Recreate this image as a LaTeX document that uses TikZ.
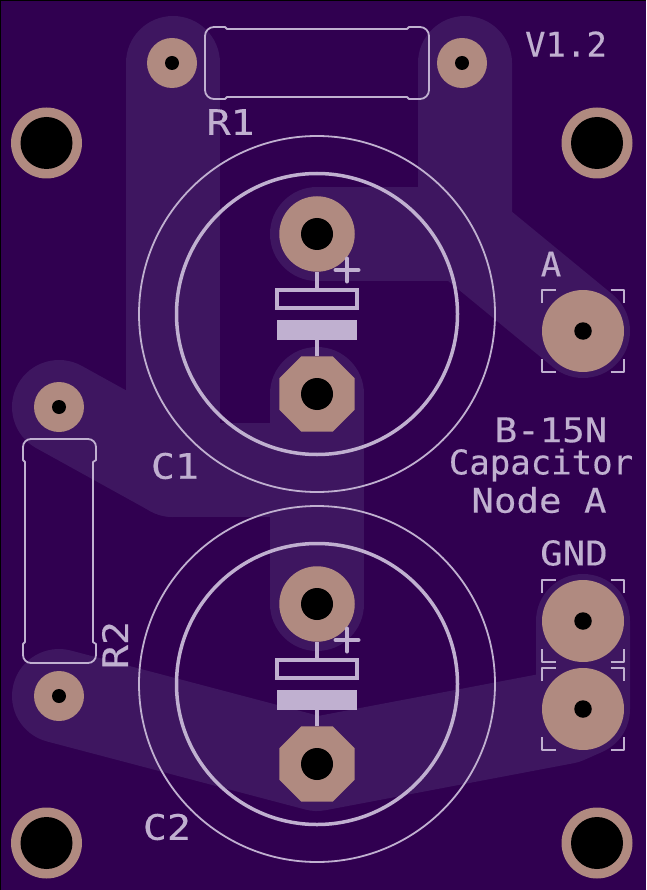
\documentclass[tikz,border=0pt]{standalone}
\usepackage{fontspec}
\setmainfont{DejaVu Sans Mono}[FakeBold=0.3]
\newfontfamily\wideface[FakeStretch=1.1,FakeBold=0.3]{DejaVu Sans Mono}
\newfontfamily\wideRface[FakeStretch=1.14,FakeBold=0.3]{DejaVu Sans Mono}
\usetikzlibrary{shapes.geometric}
\definecolor{board}{RGB}{48,0,80}
\definecolor{copperpour}{RGB}{62,22,96}
\definecolor{padc}{RGB}{176,138,128}
\definecolor{silk}{RGB}{192,176,208}
\tikzset{
  trace/.style={draw=copperpour,line width=94pt,line cap=round,line join=round},
  roundpad/.style={circle,fill=padc,inner sep=0pt,minimum size=#1},
  octpad/.style={regular polygon,regular polygon sides=8,fill=padc,inner sep=0pt,minimum size=81.6pt},
  drill/.style={circle,fill=black,inner sep=0pt,minimum size=#1},
  silkthin/.style={draw=silk,line width=1.8pt,line join=round},
  silkbig/.style={draw=silk,line width=3.5pt},
  silkmark/.style={draw=silk,line width=4pt},
  silkfill/.style={fill=silk,inner sep=0pt},
  label/.style={text=silk,inner sep=0pt,font=\fontsize{34}{40}\selectfont},
  widelabel/.style={text=silk,inner sep=0pt,font=\fontsize{34}{40}\selectfont\wideface},
  partlabel/.style={text=silk,inner sep=0pt,font=\fontsize{35}{40}\selectfont\wideRface},
}
\begin{document}
\begin{tikzpicture}[x=1pt,y=-1pt]
\useasboundingbox (0,0) rectangle (646,890);
\fill[black] (0,0) rectangle (646,890);
\fill[board] (1,1) rectangle (646,890);
% positions
\coordinate (pR1a) at (172,63);
\coordinate (pR1b) at (462,63);
\coordinate (pR2a) at (59,407);
\coordinate (pR2b) at (59,696);
\coordinate (pC1p) at (317,234);
\coordinate (pC1m) at (317,394);
\coordinate (pC2p) at (317,604);
\coordinate (pC2m) at (317,764);
\coordinate (pA) at (583,331);
\coordinate (pG1) at (583,621);
\coordinate (pG2) at (583,709);
\coordinate (j0) at (173,63);
\coordinate (j1) at (173,470);
\coordinate (j2) at (317,470);
\coordinate (j5) at (465,63);
\coordinate (j3) at (465,234);
\coordinate (j4) at (565,717);
% copper traces
\draw[trace] (j0) -- (j1) -- (j2);
\draw[trace] (pR2a) -- (j1);
\draw[trace] (pC1m) -- (pC2p);
\draw[trace] (j5) -- (j3) -- (pA);
\draw[trace] (pC1p) -- (j3);
\draw[trace] (pR2b) -- (pC2m) -- (j4) -- (pG2) -- (pG1);
% capacitor outlines
\node[circle,silkthin,inner sep=0pt,minimum size=356pt] (C1out) at (317,314) {};
\node[circle,silkbig,inner sep=0pt,minimum size=281pt] (C1in) at (317,314) {};
\node[circle,silkthin,inner sep=0pt,minimum size=356pt] (C2out) at (317,684) {};
\node[circle,silkbig,inner sep=0pt,minimum size=281pt] (C2in) at (317,684) {};
% pads
\node[roundpad=50pt] (R1a) at (pR1a) {};
\node[roundpad=50pt] (R1b) at (pR1b) {};
\node[roundpad=50pt] (R2a) at (pR2a) {};
\node[roundpad=50pt] (R2b) at (pR2b) {};
\node[roundpad=75.5pt] (C1p) at (pC1p) {};
\node[octpad] (C1m) at (pC1m) {};
\node[roundpad=75.5pt] (C2p) at (pC2p) {};
\node[octpad] (C2m) at (pC2m) {};
\node[roundpad=82pt] (A) at (pA) {};
\node[roundpad=82pt] (G1) at (pG1) {};
\node[roundpad=82pt] (G2) at (pG2) {};
\node[roundpad=71pt] (M1) at (46.5,143) {};
\node[roundpad=71pt] (M2) at (597,143) {};
\node[roundpad=71pt] (M3) at (46.5,843) {};
\node[roundpad=71pt] (M4) at (597,843) {};
% drills
\foreach \p in {R1a,R1b,R2a,R2b} \node[drill=14pt] at (\p) {};
\foreach \p in {C1p,C1m,C2p,C2m} \node[drill=32pt] at (\p) {};
\foreach \p in {A,G1,G2} \node[drill=17.5pt] at (\p) {};
\foreach \p in {M1,M2,M3,M4} \node[drill=52pt] at (\p) {};
% capacitor polarity marks
\foreach \dy/\nm in {0/U,370/V}{
  \begin{scope}[yshift=-\dy pt]
    \node[silkmark,minimum width=80pt,minimum height=18pt,inner sep=0pt] (rect\nm) at (317,299) {};
    \node[silkfill,minimum width=80pt,minimum height=20pt] (bar\nm) at (317,330) {};
    \draw[silkmark] (rect\nm.north) -- ++(0,-16);
    \draw[silkmark] (bar\nm.south) -- ++(0,16);
    \draw[draw=silk,line width=4pt,line cap=round] (335.5,270) -- (358.5,270) (347,258.5) -- (347,281.5);
  \end{scope}
}
% resistor outlines
\draw[silkthin] (227,29) -- (407,29) -- (409,27) -- (420,27) arc[start angle=-90,end angle=0,radius=9] -- (429,90) arc[start angle=0,end angle=90,radius=9] -- (409,99) -- (407,97) -- (227,97) -- (225,99) -- (214,99) arc[start angle=90,end angle=180,radius=9] -- (205,36) arc[start angle=180,end angle=270,radius=9] -- (225,27) -- cycle;
\draw[silkthin] (25,462) -- (25,642) -- (23,644) -- (23,655) arc[start angle=180,end angle=90,radius=8] -- (88,663) arc[start angle=90,end angle=0,radius=8] -- (96,644) -- (93,642) -- (93,462) -- (96,460) -- (96,447) arc[start angle=0,end angle=-90,radius=8] -- (31,439) arc[start angle=-90,end angle=-180,radius=8] -- (23,460) -- cycle;
% connector brackets
\foreach \nm/\cy in {bA/331,bG/621,bH/709}{
  \draw[silkthin] (542,\cy-28) -- (542,\cy-41) -- (555.5,\cy-41);
  \draw[silkthin] (610.5,\cy-41) -- (624,\cy-41) -- (624,\cy-28);
  \draw[silkthin] (542,\cy+28) -- (542,\cy+41) -- (555.5,\cy+41);
  \draw[silkthin] (610.5,\cy+41) -- (624,\cy+41) -- (624,\cy+28);
}
% labels
\node[label] (tV) at (566,44) {V1.2};
\node[partlabel] (tR1) at (230.5,122) {R1};
\node[partlabel] (tC1) at (175,466) {C1};
\node[partlabel] (tC2) at (167,827) {C2};
\node[partlabel,rotate=90] (tR2) at (115,645) {R2};
\node[label] (tA) at (551,264) {A};
\node[widelabel] (tGND) at (574,553) {GND};
\node[widelabel] (tB) at (551,430) {B-15N};
\node[label] (tCap) at (541,465) {Capacitor};
\node[widelabel] (tNode) at (539,500) {Node A};
\end{tikzpicture}
\end{document}
